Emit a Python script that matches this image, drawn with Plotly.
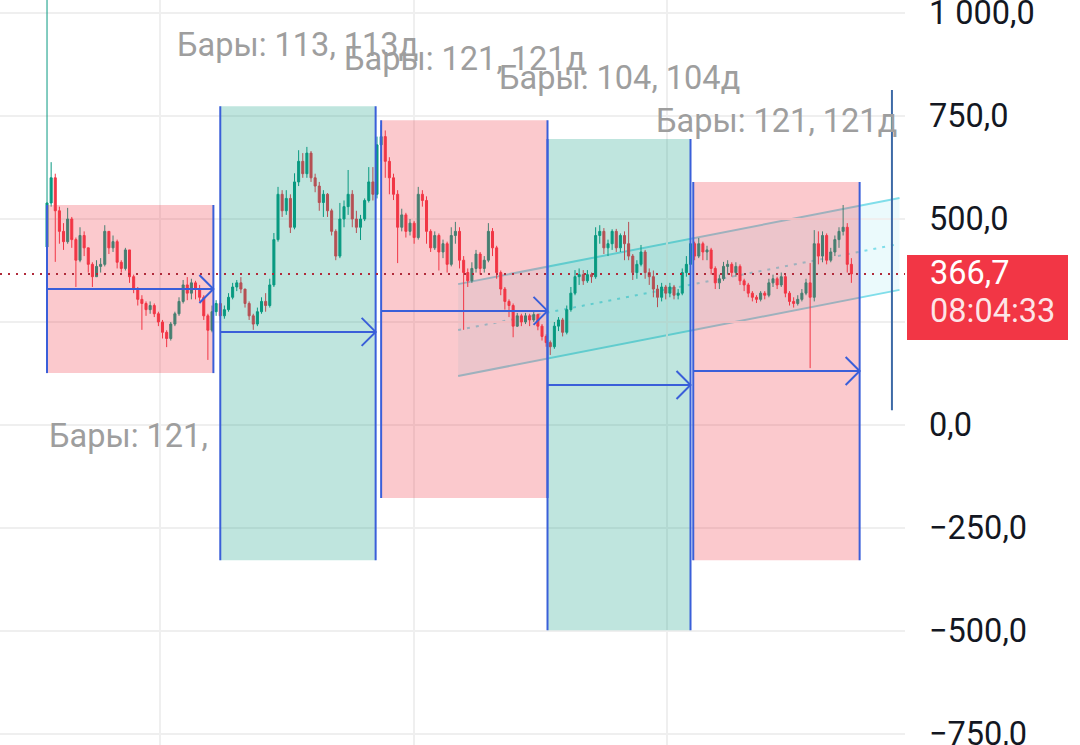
import plotly.graph_objects as go

# ---------------- data ----------------
first_open = 432
close = [539, 600, 520, 470, 445, 500, 450, 400, 460, 430,
         390, 360, 385, 390, 470, 430, 445, 395, 380, 425,
         360, 330, 305, 295, 280, 290, 270, 250, 225, 210,
         245, 270, 300, 340, 320, 345, 330, 310, 265, 230,
         275, 295, 265, 280, 310, 335, 345, 330, 295, 265,
         245, 275, 300, 290, 340, 450, 560, 520, 550, 480,
         590, 640, 610, 660, 600, 580, 540, 560, 520, 470,
         410, 500, 530, 560, 500, 480, 500, 545, 590, 560,
         680, 700, 640, 600, 560, 480, 510, 470, 490, 455,
         560, 545, 470, 430, 460, 420, 440, 390, 460, 470,
         400, 370, 350, 380, 415, 380, 400, 470, 430, 370,
         330, 300, 290, 240, 265, 250, 265, 255, 268, 240,
         215, 200, 190, 240, 255, 225, 280, 320, 360, 365,
         350, 365, 360, 460, 470, 430, 440, 470, 430, 460,
         440, 410, 370, 390, 420, 370, 360, 330, 310, 335,
         320, 335, 315, 320, 370, 390, 440, 410, 440, 420,
         425, 380, 345, 355, 385, 390, 370, 385, 350, 340,
         320, 310, 305, 320, 315, 345, 355, 340, 360, 320,
         300, 295, 305, 320, 345, 310, 440, 410, 460, 400,
         420, 450, 470, 480, 390, 366.7]
high = [1100, 638, 610, 530, 490, 527, 505, 455, 480, 470,
        430, 395, 400, 405, 485, 470, 460, 450, 400, 430,
        425, 365, 335, 315, 300, 300, 295, 275, 255, 230,
        250, 275, 310, 352, 359, 355, 350, 340, 315, 270,
        290, 303, 300, 290, 320, 345, 352, 359, 330, 300,
        270, 285, 310, 320, 355, 466, 578, 570, 570, 560,
        611, 667, 660, 675, 665, 610, 590, 570, 563, 525,
        475, 539, 545, 619, 570, 520, 510, 550, 626, 626,
        700, 728, 715, 650, 610, 570, 525, 515, 500, 495,
        578, 570, 555, 475, 470, 465, 450, 445, 480, 493,
        480, 410, 380, 395, 425, 420, 410, 490, 478, 435,
        375, 335, 305, 295, 272, 270, 272, 270, 275, 270,
        245, 220, 205, 250, 262, 260, 290, 335, 376, 380,
        376, 376, 370, 480, 485, 478, 450, 475, 476, 465,
        470, 493, 415, 400, 437, 425, 380, 375, 340, 345,
        340, 345, 340, 330, 380, 410, 449, 445, 454, 445,
        435, 430, 385, 365, 396, 400, 395, 395, 390, 355,
        345, 325, 315, 325, 325, 355, 365, 360, 370, 365,
        325, 310, 315, 330, 355, 393, 473, 470, 470, 465,
        430, 460, 480, 534, 490, 405]
low = [420, 530, 396, 440, 425, 440, 430, 335, 395, 410,
       370, 335, 360, 370, 385, 415, 420, 380, 370, 375,
       345, 320, 290, 231, 265, 270, 262, 240, 210, 189,
       205, 240, 265, 295, 303, 305, 305, 300, 255, 158,
       225, 265, 255, 258, 275, 305, 325, 320, 285, 255,
       231, 240, 270, 275, 285, 335, 445, 505, 510, 466,
       475, 580, 600, 600, 590, 565, 520, 505, 505, 460,
       400, 405, 480, 510, 480, 466, 449, 495, 540, 545,
       550, 640, 600, 560, 546, 393, 470, 455, 460, 440,
       450, 530, 440, 420, 425, 375, 405, 370, 385, 440,
       380, 231, 335, 345, 370, 365, 370, 395, 410, 355,
       315, 280, 262, 213, 238, 240, 245, 240, 250, 230,
       205, 190, 170, 185, 228, 215, 220, 275, 315, 340,
       340, 345, 345, 355, 440, 415, 410, 425, 420, 420,
       400, 400, 352, 355, 385, 355, 340, 310, 286, 300,
       305, 310, 305, 305, 315, 360, 385, 400, 405, 400,
       400, 365, 330, 330, 350, 365, 360, 360, 340, 325,
       310, 300, 296, 300, 305, 310, 335, 330, 335, 310,
       290, 285, 290, 300, 315, 138, 300, 390, 395, 390,
       395, 410, 430, 460, 370, 345]
bar_step = 3          # each drawn candle stands for 3 daily bars
last_price = 366.7
last_time = "08:04:33"

# date-range drawings (bar index, bar count, price top/bottom)
box_start = [0, 126, 243, 364, 470]
box_bars = [121, 113, 121, 104, 121]
box_top = [534, 774, 740, 694, 590]
box_bottom = [126, -328, -177, -498, -328]
box_kind = ["down", "up", "down", "up", "down"]
arrow_price = [330, 226, 277, 97, 131]
box_labels = ["Бары: 121,", "Бары: 113, 113д", "Бары: 121, 121д",
              "Бары: 104, 104д", "Бары: 121, 121д"]
label_side = ["below", "above", "above", "above", "above"]

# parallel channel
channel_x = [299, 620]
channel_lower = [119, 328]
channel_width = 223

# vertical line drawing
vline_x = 614.5
vline_prices = [36, 813]

y_ticks = [-750, -500, -250, 0, 500, 750, 1000]
y_hidden_grid = [250]          # label hidden behind the price tag
x_grid = [82, 267, 451]

# ---------------- figure ----------------
W, H = 1080, 745
R_MARGIN = 175
plot_w = W - R_MARGIN
x_range = [-34.2, 624.0]
y_range = [-776.7, 1031.6]
px_x = plot_w / (x_range[1] - x_range[0])
px_y = H / (y_range[1] - y_range[0])

bars = [i * bar_step for i in range(len(close))]
opens = [first_open] + close[:-1]

RED = "#f23645"
GREEN = "#089981"
BLUE = "#3a5fd9"
CYAN = "#80deea"
FS = 32.5

fig = go.Figure()
fig.add_trace(go.Candlestick(
    x=bars, open=opens, high=high, low=low, close=close,
    increasing=dict(line=dict(color=GREEN, width=1), fillcolor=GREEN),
    decreasing=dict(line=dict(color=RED, width=1), fillcolor=RED),
    whiskerwidth=0, hoverinfo="skip", showlegend=False,
))

shapes = []
# channel (below candles)
x0, x1 = channel_x
l0, l1 = channel_lower
shapes.append(dict(type="path", layer="below", line=dict(width=0),
                   fillcolor="rgba(128,222,234,0.16)",
                   path=f"M {x0},{l0} L {x1},{l1} L {x1},{l1 + channel_width} "
                        f"L {x0},{l0 + channel_width} Z"))
for off, dash in [(0, "solid"), (channel_width, "solid"), (channel_width / 2, "3px,6px")]:
    shapes.append(dict(type="line", layer="below", x0=x0, x1=x1,
                       y0=l0 + off, y1=l1 + off,
                       line=dict(color=CYAN, width=2, dash=dash)))

# boxes
for s, n, t, b, k in zip(box_start, box_bars, box_top, box_bottom, box_kind):
    fill = "rgba(242,54,69,0.27)" if k == "down" else "rgba(8,153,129,0.26)"
    shapes.append(dict(type="rect", layer="above", x0=s, x1=s + n, y0=b, y1=t,
                       fillcolor=fill, line=dict(width=0)))
for s, n, t, b in zip(box_start, box_bars, box_top, box_bottom):
    for xe in (s, s + n):
        shapes.append(dict(type="line", layer="above", x0=xe, x1=xe, y0=b, y1=t,
                           line=dict(color=BLUE, width=2)))
# arrows
ah_x = 14 / px_x
ah_y = 14 / px_y
for s, n, p in zip(box_start, box_bars, arrow_price):
    e = s + n
    shapes.append(dict(type="line", layer="above", x0=s, x1=e, y0=p, y1=p,
                       line=dict(color=BLUE, width=2)))
    shapes.append(dict(type="path", layer="above",
                       path=f"M {e - ah_x},{p + ah_y} L {e},{p} L {e - ah_x},{p - ah_y}",
                       line=dict(color=BLUE, width=2)))
# last price dotted line
shapes.append(dict(type="line", layer="above", xref="paper", x0=0, x1=1,
                   y0=last_price, y1=last_price,
                   line=dict(color="#b02a3a", width=2, dash="2px,6px")))
# vertical line drawing
shapes.append(dict(type="line", layer="above", x0=vline_x, x1=vline_x,
                   y0=vline_prices[0], y1=vline_prices[1],
                   line=dict(color="#3d6aa6", width=2)))
# price label background
shapes.append(dict(type="rect", layer="above", xref="paper", yref="y",
                   xsizemode="pixel", ysizemode="pixel",
                   xanchor=1, yanchor=last_price,
                   x0=2, x1=163, y0=19, y1=-66,
                   fillcolor=RED, line=dict(width=0)))

annotations = []
for s, n, t, b, txt, side in zip(box_start, box_bars, box_top, box_bottom,
                                 box_labels, label_side):
    if side == "above":
        annotations.append(dict(x=s + n / 2, y=t, xanchor="center", yanchor="middle",
                                yshift=61, text=txt, showarrow=False,
                                font=dict(size=FS, color="#9e9e9e")))
    else:
        annotations.append(dict(x=s, y=b, xanchor="left", yanchor="middle",
                                yshift=-63, text=txt, showarrow=False,
                                font=dict(size=FS, color="#9e9e9e")))
annotations.append(dict(xref="paper", x=928 / plot_w, y=last_price, yref="y",
                        xanchor="left", yanchor="middle", yshift=1,
                        text=f"{last_price:.1f}".replace(".", ","), showarrow=False,
                        font=dict(size=FS, color="white")))
annotations.append(dict(xref="paper", x=928 / plot_w, y=last_price, yref="y",
                        xanchor="left", yanchor="middle", yshift=-37,
                        text=last_time, showarrow=False,
                        font=dict(size=FS, color="rgba(255,255,255,0.88)")))

fig.update_layout(
    width=W, height=H,
    margin=dict(l=0, r=R_MARGIN, t=0, b=0, pad=0, autoexpand=False),
    paper_bgcolor="white", plot_bgcolor="white",
    showlegend=False, hovermode=False,
    separators=", ",
    font=dict(family="Roboto", size=FS, color="#131722"),
    shapes=shapes, annotations=annotations,
    xaxis=dict(range=x_range, tickvals=x_grid, showticklabels=False,
               showgrid=True, gridcolor="#efefef", gridwidth=1.5,
               zeroline=False, showline=False, ticks="", automargin=False,
               rangeslider=dict(visible=False)),
    yaxis=dict(side="right", range=y_range, tickvals=y_ticks, tickformat=",.1f",
               showgrid=True, gridcolor="#efefef", gridwidth=1.5,
               minor=dict(tickvals=y_hidden_grid, showgrid=True,
                          gridcolor="#efefef", gridwidth=1.5, ticks=""),
               zeroline=False, showline=False, ticks="", ticklabelstandoff=23,
               ticklabeloverflow="allow", automargin=False,
               tickfont=dict(size=FS, color="#131722")),
)

fig.write_html("out.html", config={"displayModeBar": False},
               post_script="document.body.style.margin='0';")
